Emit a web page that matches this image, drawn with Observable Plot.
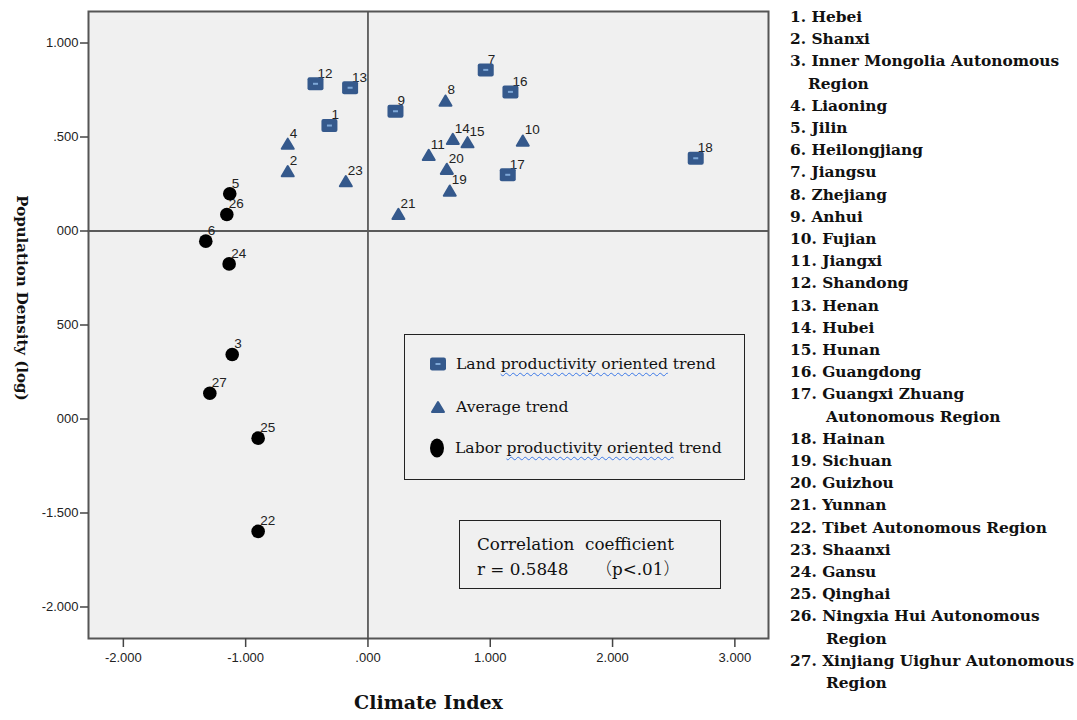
<!DOCTYPE html>
<html>
<head>
<meta charset="utf-8">
<script src="https://cdn.jsdelivr.net/npm/d3@7"></script>
<script src="https://cdn.jsdelivr.net/npm/@observablehq/plot@0.6"></script>
<style>
  body { margin: 0; background: #fff; }
  #wrap { position: relative; width: 1077px; height: 720px; overflow: hidden; }
  #wrap > svg { position: absolute; left: 0; top: 0; }
  .serif { font-family: "DejaVu Serif", "Liberation Serif", serif; color: #111; }
  #legend { position: absolute; left: 404px; top: 334px; width: 341px; height: 146px;
            border: 1.5px solid #222; box-sizing: border-box; }
  .leg-item { position: absolute; left: 0; height: 24px; display: flex; align-items: center;
              font-size: 15.6px; white-space: pre; }
  .leg-item svg { display: block; flex: none; }
  .wavy { text-decoration: underline wavy #3b78e7; text-decoration-thickness: 1px;
          text-underline-offset: 3px; }
  #corr { position: absolute; left: 459px; top: 520px; width: 262px; height: 69px;
          border: 1.5px solid #222; box-sizing: border-box; padding: 11px 0 0 17px;
          font-size: 16.8px; line-height: 24px; white-space: pre; }
  #corr .cjk { font-family: "Noto Sans CJK JP", "Noto Sans CJK SC", sans-serif; font-weight: 300; }
  #names { position: absolute; left: 790px; top: 6px; font-size: 15.4px; font-weight: bold;
           line-height: 22.2px; white-space: pre; }
</style>
</head>
<body>
<div id="wrap"></div>
<script>
// ---------------- data ----------------
const regionIds = [1, 2, 3, 4, 5, 6, 7, 8, 9, 10, 11, 12, 13, 14, 15, 16, 17, 18, 19, 20, 21, 22, 23, 24, 25, 26, 27];
const climateIndex = [-0.315, -0.656, -1.110, -0.656, -1.130, -1.326, 0.963, 0.634, 0.225, 1.266,
                      0.497, -0.429, -0.146, 0.694, 0.814, 1.165, 1.143, 2.680, 0.669, 0.645,
                      0.249, -0.898, -0.181, -1.135, -0.898, -1.154, -1.293];
const populationDensityLog = [0.561, 0.318, -0.657, 0.464, 0.198, -0.054, 0.857, 0.694, 0.637, 0.481,
                              0.405, 0.783, 0.762, 0.490, 0.472, 0.740, 0.299, 0.387, 0.215, 0.331,
                              0.091, -1.598, 0.265, -0.175, -1.102, 0.088, -0.863];
const trendType = ["land", "average", "labor", "average", "labor", "labor", "land", "average", "land", "average",
                   "average", "land", "land", "average", "average", "land", "land", "land", "average", "average",
                   "average", "labor", "average", "labor", "labor", "labor", "labor"];
const trendLabels = ["Land productivity oriented trend", "Average trend", "Labor productivity oriented trend"];
const regionNames = ["Hebei", "Shanxi", "Inner Mongolia Autonomous|Region", "Liaoning", "Jilin", "Heilongjiang",
  "Jiangsu", "Zhejiang", "Anhui", "Fujian", "Jiangxi", "Shandong", "Henan", "Hubei", "Hunan", "Guangdong",
  "Guangxi Zhuang|Autonomous Region", "Hainan", "Sichuan", "Guizhou", "Yunnan", "Tibet Autonomous Region",
  "Shaanxi", "Gansu", "Qinghai", "Ningxia Hui Autonomous|Region", "Xinjiang Uighur Autonomous|Region"];
const xTicks = [-2, -1, 0, 1, 2, 3];
const xTickLabels = ["-2.000", "-1.000", ".000", "1.000", "2.000", "3.000"];
const yTicks = [-2, -1.5, -1, -0.5, 0, 0.5, 1];
const yTickLabels = ["-2.000", "-1.500", "000", "500", "000", ".500", "1.000"]; // as visible (partly hidden by title)
const corrTitle = "Correlation  coefficient";
const corrValue = "r = 0.5848     ";
const corrP = ["（", "p<.01", "）"];
const xTitle = "Climate Index";
const yTitle = "Population Density (log)";

// ---------------- symbols ----------------
const blue = "#35598c";
const dashBlue = "#7ea8d8";
const roundedRect = {
  draw(ctx, size) {
    const r = Math.sqrt(size / Math.PI);
    const w = 1.6 * r, h = 1.3 * r, c = 0.4 * r;
    ctx.moveTo(-w + c, -h);
    ctx.lineTo(w - c, -h);
    ctx.arcTo(w, -h, w, -h + c, c);
    ctx.lineTo(w, h - c);
    ctx.arcTo(w, h, w - c, h, c);
    ctx.lineTo(-w + c, h);
    ctx.arcTo(-w, h, -w, h - c, c);
    ctx.lineTo(-w, -h + c);
    ctx.arcTo(-w, -h, -w + c, -h, c);
    ctx.closePath();
  }
};
const dash = {
  draw(ctx, size) {
    const r = Math.sqrt(size / Math.PI);
    ctx.rect(-0.5 * r, -0.2 * r, r, 0.4 * r);
  }
};
const tri = {
  draw(ctx, size) {
    const r = Math.sqrt(size / Math.PI);
    ctx.moveTo(0, -0.85 * r);
    ctx.lineTo(r, 0.85 * r);
    ctx.lineTo(-r, 0.85 * r);
    ctx.closePath();
  }
};

const data = regionIds.map((id, i) => ({ id, x: climateIndex[i], y: populationDensityLog[i], trend: trendType[i] }));
const land = data.filter(d => d.trend === "land");
const avg = data.filter(d => d.trend === "average");
const labor = data.filter(d => d.trend === "labor");

const chart = Plot.plot({
  width: 1077, height: 720,
  marginLeft: 88, marginTop: 11, marginRight: 309, marginBottom: 82,
  style: { background: "transparent", fontFamily: "'Liberation Sans', Arial, sans-serif", fontSize: "13px", color: "#222" },
  x: { domain: [-2.285, 3.275] },
  y: { domain: [-2.1676, 1.1676] },
  marks: [
    Plot.frame({ fill: "#f0f0f0" }),
    Plot.ruleX([0], { stroke: "#5a5a5a", strokeWidth: 1.8 }),
    Plot.ruleY([0], { stroke: "#5a5a5a", strokeWidth: 1.8 }),
    Plot.frame({ stroke: "#555", strokeWidth: 2 }),
    Plot.axisX({ ticks: xTicks, tickFormat: d => xTickLabels[xTicks.indexOf(d)], tickSize: 9, tickPadding: 5,
                 label: null, stroke: "#444", strokeWidth: 1.5, fill: "#222" }),
    Plot.axisY({ ticks: yTicks, tickFormat: d => yTickLabels[yTicks.indexOf(d)], tickSize: 8, tickPadding: 2,
                 label: null, stroke: "#444", strokeWidth: 1.5, fill: "#222" }),
    Plot.text(data, { x: "x", y: "y", text: "id", dx: 2, dy: -10.5, textAnchor: "start", fill: "#222", fontSize: 13.5 }),
    Plot.dot(land, { x: "x", y: "y", symbol: roundedRect, r: 5, fill: blue, stroke: "none" }),
    Plot.dot(land, { x: "x", y: "y", symbol: dash, r: 5, fill: dashBlue, stroke: "none" }),
    Plot.dot(avg, { x: "x", y: "y", symbol: tri, r: 6, fill: blue, stroke: blue, strokeWidth: 2, strokeLinejoin: "round" }),
    Plot.dot(labor, { x: "x", y: "y", r: 6.8, fill: "#000", stroke: "none" }),
    Plot.text([xTitle], { frameAnchor: "bottom", dy: 70, fontFamily: "'DejaVu Serif', serif", fontWeight: "bold",
                          fontSize: 19, fill: "#111" }),
    Plot.text([yTitle], { frameAnchor: "left", textAnchor: "middle", dx: -67, dy: -27, rotate: 90,
                          fontFamily: "'DejaVu Serif', serif", fontWeight: "bold", fontSize: 15, fill: "#111" })
  ]
});

const wrap = document.getElementById("wrap");
wrap.appendChild(chart);

// ---------------- legend (inside plot) ----------------
const legend = document.createElement("div");
legend.id = "legend";
legend.className = "serif";
const icons = [
  `<svg width="20" height="16" viewBox="-10 -8 20 16"><rect x="-8" y="-6.5" width="16" height="13" rx="2.2" fill="${blue}"/><rect x="-2.5" y="-1" width="5" height="2" fill="${dashBlue}"/></svg>`,
  `<svg width="20" height="16" viewBox="-10 -8 20 16"><path d="M0,-5 L6,5 L-6,5Z" fill="${blue}" stroke="${blue}" stroke-width="2" stroke-linejoin="round"/></svg>`,
  `<svg width="20" height="22" viewBox="-10 -11 20 22"><ellipse cx="0" cy="0" rx="7" ry="9.5" fill="#000"/></svg>`
];
const legTops = [17, 60, 101];
trendLabels.forEach((lab, i) => {
  const item = document.createElement("div");
  item.className = "leg-item";
  item.style.top = legTops[i] + "px";
  item.style.left = (i === 2 ? 22 : 23) + "px";
  let html = lab;
  if (lab.includes("productivity oriented")) {
    html = lab.replace("productivity oriented", `<span class="wavy">productivity oriented</span>`);
  }
  item.innerHTML = icons[i] + `<span style="margin-left:8px">${html}</span>`;
  legend.appendChild(item);
});
wrap.appendChild(legend);

// ---------------- correlation box ----------------
const corr = document.createElement("div");
corr.id = "corr";
corr.className = "serif";
corr.innerHTML = `<div>${corrTitle}</div><div>${corrValue}<span class="cjk">${corrP[0]}</span>${corrP[1]}<span class="cjk">${corrP[2]}</span></div>`;
wrap.appendChild(corr);

// ---------------- region list ----------------
const names = document.createElement("div");
names.id = "names";
names.className = "serif";
regionNames.forEach((n, i) => {
  const parts = n.split("|");
  const first = document.createElement("div");
  first.textContent = `${regionIds[i]}. ${parts[0]}`;
  names.appendChild(first);
  if (parts[1]) {
    const cont = document.createElement("div");
    cont.style.paddingLeft = (regionIds[i] < 10 ? 18 : 36) + "px";
    cont.textContent = parts[1];
    names.appendChild(cont);
  }
});
wrap.appendChild(names);
</script>
</body>
</html>
